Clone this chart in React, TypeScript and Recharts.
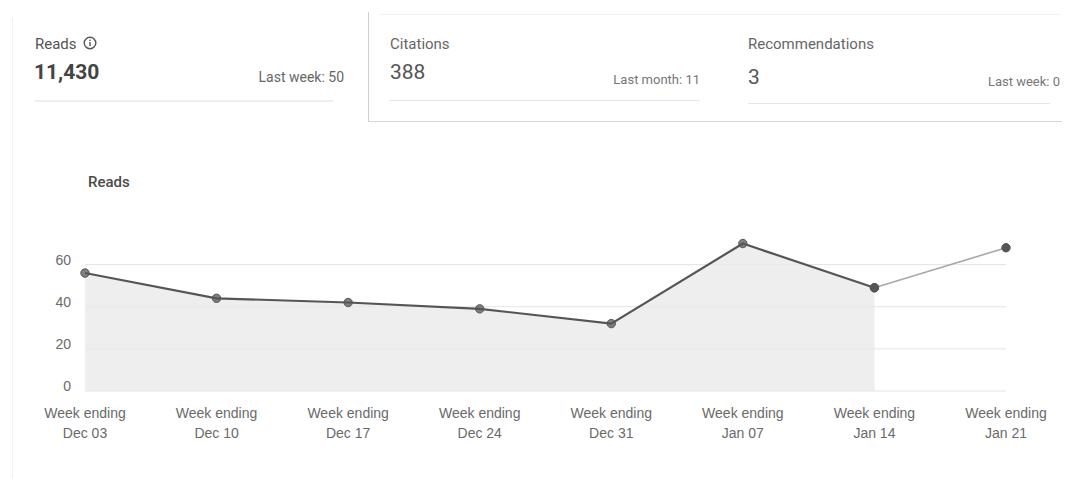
import React from 'react';
import { ComposedChart, Area, Line, XAxis, YAxis, CartesianGrid } from 'recharts';

const weeks = ['Dec 03', 'Dec 10', 'Dec 17', 'Dec 24', 'Dec 31', 'Jan 07', 'Jan 14', 'Jan 21'];
const reads = [56, 44, 42, 39, 32, 70, 49, 68];
const lastFullWeek = 6; // Jan 21 is still in progress
const yTicks = [0, 20, 40, 60];

const data = weeks.map((week, i) => ({
  week,
  full: i <= lastFullWeek ? reads[i] : null,
  partial: i >= lastFullWeek ? reads[i] : null,
}));

const font = 'Roboto, "Noto Sans", sans-serif';
const axisFont = '"Liberation Sans", Arial, sans-serif';

const WeekTick = (props: any) => {
  const { x, y, payload } = props;
  return (
    <text x={x} y={y} textAnchor="middle" fill="#6a6a6a" fontSize={14} fontFamily={axisFont}>
      <tspan x={x} dy={19}>Week ending</tspan>
      <tspan x={x} dy={20}>{payload.value}</tspan>
    </text>
  );
};

const ValueTick = (props: any) => {
  const { x, y, payload } = props;
  return (
    <text x={x - 6} y={y} textAnchor="end" fill="#6a6a6a" fontSize={14} fontFamily={axisFont}>
      {payload.value}
    </text>
  );
};

const InfoIcon = () => (
  <svg width={14} height={14} viewBox="0 0 14 14" style={{ verticalAlign: '-1px', marginLeft: 6 }}>
    <circle cx={7} cy={7} r={5.8} fill="none" stroke="#555" strokeWidth={1.4} />
    <rect x={6.3} y={6} width={1.4} height={4} fill="#555" />
    <rect x={6.3} y={3.7} width={1.4} height={1.4} fill="#555" />
  </svg>
);

const abs = (left: number, top: number, extra: React.CSSProperties = {}): React.CSSProperties => ({
  position: 'absolute',
  left,
  top,
  whiteSpace: 'nowrap',
  fontFamily: font,
  ...extra,
});

export default function App() {
  return (
    <div style={{ position: 'absolute', left: 0, top: 0, width: 1076, height: 502, background: '#fff', overflow: 'hidden' }}>
      {/* faint card edge */}
      <div style={{ position: 'absolute', left: 12, top: 18, width: 1, height: 460, background: '#f0f0f0' }} />

      {/* Reads tab (selected) */}
      <div style={abs(35, 35, { fontSize: 15, color: '#555' })}>
        Reads<InfoIcon />
      </div>
      <div style={abs(34, 60, { fontSize: 21, fontWeight: 700, color: '#444' })}>11,430</div>
      <div style={abs(0, 69, { fontSize: 14, color: '#666', width: 344, textAlign: 'right' })}>Last week: 50</div>
      <div style={{ position: 'absolute', left: 35, top: 100, width: 298, height: 2, background: '#eeeeee' }} />

      {/* other tabs box */}
      <div style={{ position: 'absolute', left: 368, top: 12, width: 1, height: 110, background: '#cfcfcf' }} />
      <div style={{ position: 'absolute', left: 368, top: 121, width: 694, height: 1, background: '#d6d6d6' }} />
      <div style={{ position: 'absolute', left: 380, top: 14, width: 680, height: 1, background: '#f2f2f2' }} />

      <div style={abs(390, 35, { fontSize: 15, color: '#666' })}>Citations</div>
      <div style={abs(390, 60, { fontSize: 21, color: '#555' })}>388</div>
      <div style={abs(0, 72, { fontSize: 13, color: '#777', width: 700, textAlign: 'right' })}>Last month: 11</div>
      <div style={{ position: 'absolute', left: 390, top: 100, width: 310, height: 1, background: '#e6e6e6' }} />

      <div style={abs(748, 35, { fontSize: 15, color: '#666' })}>Recommendations</div>
      <div style={abs(748, 65, { fontSize: 21, color: '#555' })}>3</div>
      <div style={abs(0, 74, { fontSize: 13, color: '#777', width: 1060, textAlign: 'right' })}>Last week: 0</div>
      <div style={{ position: 'absolute', left: 748, top: 103, width: 302, height: 1, background: '#e6e6e6' }} />

      {/* chart title */}
      <div style={abs(88, 173, { fontSize: 15, fontWeight: 500, color: '#4a4a4a' })}>Reads</div>

      <div style={{ position: 'absolute', left: 0, top: 201 }}>
        <ComposedChart width={1076} height={260} data={data} margin={{ top: 32, right: 70, left: 0, bottom: 10 }}>
          <CartesianGrid vertical={false} stroke="#e4e4e4" horizontalValues={yTicks} />
          <XAxis dataKey="week" axisLine={false} tickLine={false} height={60} interval={0} tick={<WeekTick />} />
          <YAxis
            width={85}
            domain={[0, 75]}
            ticks={yTicks}
            axisLine={false}
            tickLine={false}
            tick={<ValueTick />}
          />
          <Line
            type="linear"
            dataKey="partial"
            stroke="#a8a8a8"
            strokeWidth={1.6}
            dot={{ r: 4.2, fill: '#555', stroke: '#555', strokeWidth: 1 }}
            activeDot={false}
            isAnimationActive={false}
          />
          <Area
            type="linear"
            dataKey="full"
            stroke="#555"
            strokeWidth={2.2}
            fill="#e8e8e8"
            fillOpacity={0.75}
            dot={{ r: 4.2, fill: '#555', stroke: '#555', strokeWidth: 1 }}
            activeDot={false}
            isAnimationActive={false}
          />
        </ComposedChart>
      </div>
    </div>
  );
}
